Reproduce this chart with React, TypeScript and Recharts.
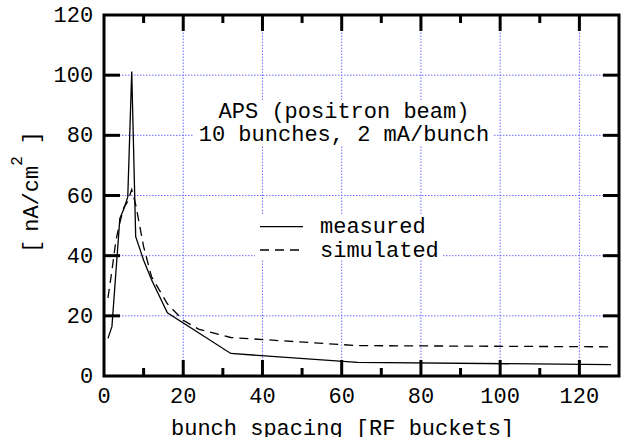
import React from 'react';
import { LineChart, Line, XAxis, YAxis, ReferenceLine, Legend } from 'recharts';

const FONT = "'Liberation Mono', 'Courier New', monospace";

const measuredX = [1, 2, 4, 5, 6, 7, 8, 10, 12, 16, 32, 64, 128];
const measuredY = [12.5, 16.4, 52.4, 55.5, 59.5, 101.2, 46.3, 38.5, 32, 21, 7.5, 4.5, 3.8];
const simulatedX = [1, 2, 3, 4, 5, 6, 7, 8, 10, 12, 16, 20, 24, 32, 64, 128];
const simulatedY = [26, 35, 45, 51, 56, 58, 62, 57, 43, 33, 24, 18.5, 15.5, 12.8, 10.1, 9.7];

const X_MIN = 0;
const X_MAX = 130;
const Y_MIN = 0;
const Y_MAX = 120;

const xLabelTicks = [0, 20, 40, 60, 80, 100, 120];
const xMajorMarks = [20, 40, 60, 80, 100, 120];
const xMinorMarks = [10, 30, 50, 70, 90, 110];
const yLabelTicks = [0, 20, 40, 60, 80, 100, 120];
const yMajorMarks = [20, 40, 60, 80, 100];
const xGrid = [20, 40, 60, 80, 100, 120];
const yGrid = [20, 40, 60, 80, 100];

const measuredData = measuredX.map((x, i) => ({ x, y: measuredY[i] }));
const simulatedData = simulatedX.map((x, i) => ({ x, y: simulatedY[i] }));

const GRID = '#6e6eff';

// chart geometry (layout)
const W = 621;
const H = 437;
const M_TOP = 15;
const M_RIGHT = 2;
const Y_AXIS_W = 104;
const X_AXIS_H = 61;
const P_LEFT = Y_AXIS_W;
const P_RIGHT = W - M_RIGHT;
const P_TOP = M_TOP;
const P_BOTTOM = H - X_AXIS_H;
const px = (v: number) => P_LEFT + ((v - X_MIN) / (X_MAX - X_MIN)) * (P_RIGHT - P_LEFT);
const py = (v: number) => P_BOTTOM - ((v - Y_MIN) / (Y_MAX - Y_MIN)) * (P_BOTTOM - P_TOP);
const MAJOR = 16;
const MINOR = 8;
const FRAME_W = 3;

const BottomTick = (props: any) => {
  const { x, y, payload } = props;
  return (
    <text x={x} y={y + 27.3} textAnchor="middle" fontFamily={FONT} fontSize={22} fill="#000">
      {payload.value}
    </text>
  );
};

const LeftTick = (props: any) => {
  const { x, y, payload } = props;
  return (
    <text x={x - 10.8} y={y + 7} textAnchor="end" fontFamily={FONT} fontSize={22} fill="#000">
      {payload.value}
    </text>
  );
};

const XTitle = () => (
  <text x={171} y={435} fontFamily={FONT} fontSize={22} fill="#000">
    bunch spacing [RF buckets]
  </text>
);

const YTitle = () => (
  <text
    transform="translate(38,192) rotate(-90)"
    textAnchor="middle"
    fontFamily={FONT}
    fontSize={22}
    fill="#000"
  >
    [<tspan dx={8}>nA/cm</tspan>
    <tspan fontSize={16} dy={-16}>2</tspan>
    <tspan dx={12} dy={16}>]</tspan>
  </text>
);

const renderLegend = (props: any) => {
  const payload = (props.payload || []).filter(
    (e: any) => e.value === 'measured' || e.value === 'simulated'
  );
  return (
    <svg width={188} height={46} style={{ display: 'block' }}>
      {payload.map((entry: any, i: number) => {
        const ly = 12.7 + i * 23.3;
        const dash = entry?.payload?.strokeDasharray;
        return (
          <g key={i}>
            <line x1={5} y1={ly} x2={48} y2={ly} stroke="#000" strokeWidth={1.3} strokeDasharray={dash} />
            <text x={65} y={ly + 6.6} fontFamily={FONT} fontSize={22} fill="#000">
              {entry.value}
            </text>
          </g>
        );
      })}
    </svg>
  );
};

export default function App() {
  return (
    <div style={{ position: 'absolute', left: 0, top: 0, width: W, height: H, background: '#fff' }}>
      <LineChart width={W} height={H} margin={{ top: M_TOP, right: M_RIGHT, bottom: 0, left: 0 }}>
        {xGrid.map((v) => (
          <ReferenceLine key={'gx' + v} x={v} stroke={GRID} strokeWidth={1} strokeDasharray="1.5 1.5" />
        ))}
        {yGrid.map((v) => (
          <ReferenceLine key={'gy' + v} y={v} stroke={GRID} strokeWidth={1} strokeDasharray="1.5 1.5" />
        ))}
        <XAxis
          dataKey="x"
          type="number"
          domain={[X_MIN, X_MAX]}
          ticks={xLabelTicks}
          interval={0}
          allowDataOverflow
          height={X_AXIS_H}
          tickSize={0}
          tickMargin={0}
          tickLine={false}
          axisLine={{ stroke: '#000', strokeWidth: 2 }}
          tick={<BottomTick />}
          label={<XTitle />}
        />
        <YAxis
          type="number"
          domain={[Y_MIN, Y_MAX]}
          ticks={yLabelTicks}
          interval={0}
          allowDataOverflow
          width={Y_AXIS_W}
          tickSize={0}
          tickMargin={0}
          tickLine={false}
          axisLine={{ stroke: '#000', strokeWidth: 2 }}
          tick={<LeftTick />}
          label={<YTitle />}
        />
        <Line
          data={measuredData}
          dataKey="y"
          name="measured"
          type="linear"
          stroke="#000"
          strokeWidth={1.3}
          dot={false}
          isAnimationActive={false}
        />
        <Line
          data={simulatedData}
          dataKey="y"
          name="simulated"
          type="linear"
          stroke="#000"
          strokeWidth={1.3}
          strokeDasharray="9 6"
          dot={false}
          isAnimationActive={false}
        />
        <Legend
          layout="horizontal"
          verticalAlign="middle"
          align="center"
          content={renderLegend}
          wrapperStyle={{ left: 255, top: 214, width: 188, height: 46, background: '#fff', lineHeight: 0 }}
        />
      </LineChart>
      <svg width={W} height={H} style={{ position: 'absolute', left: 0, top: 0, pointerEvents: 'none' }}>
        <rect
          x={P_LEFT}
          y={P_TOP}
          width={P_RIGHT - P_LEFT}
          height={P_BOTTOM - P_TOP}
          fill="none"
          stroke="#000"
          strokeWidth={FRAME_W}
        />
        {xMajorMarks.map((v) => (
          <g key={'xM' + v}>
            <line x1={px(v)} y1={P_BOTTOM} x2={px(v)} y2={P_BOTTOM - MAJOR} stroke="#000" strokeWidth={FRAME_W} />
            <line x1={px(v)} y1={P_TOP} x2={px(v)} y2={P_TOP + MAJOR} stroke="#000" strokeWidth={FRAME_W} />
          </g>
        ))}
        {xMinorMarks.map((v) => (
          <g key={'xm' + v}>
            <line x1={px(v)} y1={P_BOTTOM} x2={px(v)} y2={P_BOTTOM - MINOR} stroke="#000" strokeWidth={FRAME_W} />
            <line x1={px(v)} y1={P_TOP} x2={px(v)} y2={P_TOP + MINOR} stroke="#000" strokeWidth={FRAME_W} />
          </g>
        ))}
        {yMajorMarks.map((v) => (
          <g key={'yM' + v}>
            <line x1={P_LEFT} y1={py(v)} x2={P_LEFT + MAJOR} y2={py(v)} stroke="#000" strokeWidth={FRAME_W} />
            <line x1={P_RIGHT} y1={py(v)} x2={P_RIGHT - MAJOR} y2={py(v)} stroke="#000" strokeWidth={FRAME_W} />
          </g>
        ))}
        <rect x={214} y={101} width={260} height={23} fill="#fff" />
        <rect x={194} y={124} width={300} height={22} fill="#fff" />
        <text x={344} y={118.3} textAnchor="middle" fontFamily={FONT} fontSize={22} fill="#000">
          APS (positron beam)
        </text>
        <text x={344} y={140.7} textAnchor="middle" fontFamily={FONT} fontSize={22} fill="#000">
          10 bunches, 2 mA/bunch
        </text>
      </svg>
    </div>
  );
}
